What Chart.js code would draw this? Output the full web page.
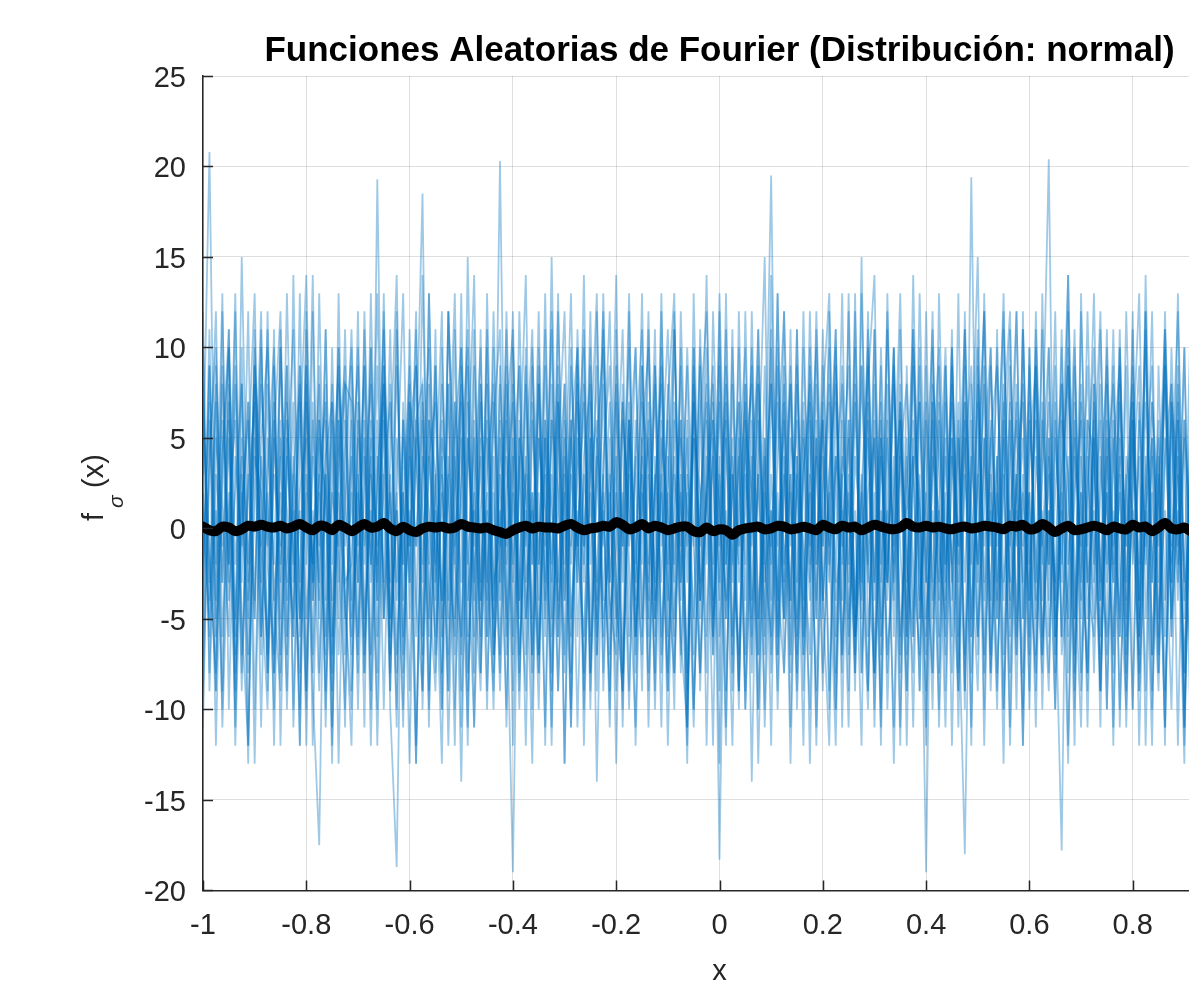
<!DOCTYPE html>
<html>
<head>
<meta charset="utf-8">
<title>Funciones Aleatorias de Fourier</title>
<script src="https://cdn.jsdelivr.net/npm/chart.js@4.4.1/dist/chart.umd.min.js"></script>
<style>
  html, body { margin: 0; padding: 0; background: #fff; overflow: hidden; }
  #wrap { position: absolute; left: 0; top: 0; width: 1440px; height: 981px; }
</style>
</head>
<body>
<div id="wrap"><canvas id="fourierChart" width="1440" height="981"></canvas></div>
<script>
// Sample grid: x from -1 to 1, step 0.0125 (161 samples)
const xStart = -1;
const xStep = 0.0125;

// Axis ticks
const xTicks = [-1, -0.8, -0.6, -0.4, -0.2, 0, 0.2, 0.4, 0.6, 0.8, 1];
const yTicks = [-20, -15, -10, -5, 0, 5, 10, 15, 20, 25];

// Random Fourier functions (estimated)
const s1 = [
  3, 20.8, -5, 8, -3, 12, -8, 2, 7, -11, 5, -2, 10, -7, 3, -12, 8, -4, 6, 1, -9, 13, -5,
  2, -8, 11, -3, 6, -10, 4, 14, -6, 1, -13, 7, -2, 9, -5, 12, 3, -14, 5, -1, 8, -6, 10,
  -4, 6, -9, 3, 14, -7, 2, -11, 8, -3, 5, -8, 11, -1, 7, -14, 4, 9, -6, 2, -10, 6, -2,
  12, -5, 3, -9, 7, 1, -12, 10, -4, 6, -7, 13, -2, 4, -10, 8, -6, 3, 15, -8, 2, -5, 9,
  -3, 7, -13, 5, -1, 10, -6, 3, -9, 12, -4, 8, 14, -7, 1, -11, 6, -3, 9, -5, 2, 11, -8,
  4, -2, 7, -10, 19.4, -6, 1, 9, -4, 5, -12, 3, 8, -7, 10, -1, -9, 6, -3, 14, -5, 2, -8,
  7, -4, 11, -6, 3, -9, 5, -2, 12, -7, 4, -11, 8, -3, 6, -1, 10, -8, 2, -5, 9, -4, 3
];
const s2 = [
  -6, 9, -2, 13, -10, 4, -1, 7, -13, 5, 10, -4, 2, -9, 14, -6, 3, -2, 8, -11, 6, -7, 1,
  11, -3, 5, -9, 19.3, -5, 2, -8, 6, -1, 12, -10, 4, 7, -6, 3, -12, 9, -2, 5, -8, 13, -4,
  1, -10, 8, -5, 3, 11, -7, 5, -2, 9, -13, 6, -3, 10, -8, 2, 12, -5, -1, 7, -9, 4, 11,
  -6, 3, -11, 8, -2, 6, -9, 13, -4, 1, 7, -18.3, 5, -3, 10, -7, 4, -10, 2, 8, -5, 12, -1,
  6, -9, 3, 10, -4, -12, 7, -2, 5, -8, 15, -6, 2, -11, 8, -3, 4, -7, 11, -1, -9, 6, -4,
  9, -12, 5, -3, 8, -7, 13, -1, 4, -10, 6, -5, 11, -2, -8, 3, 10, -6, 1, -13, 7, -4, 12,
  -2, 6, -10, 4, 9, -5, 1, -8, 14, -3, 5, -12, 7, -1, 10, -6, 3, -9, 11, -4, 2, -7, 5
];
const s3 = [
  8, -4, 1, -10, 6, -7, 15, -3, 9, -1, -6, 11, -12, 4, -2, 7, -9, 12, -5, 3, -13, 8, 2,
  -7, 5, -11, 10, -3, 6, -8, 2, 13, -5, 4, 18.5, -9, 1, -4, 8, -10, 3, 11, -6, 7, -2, -9,
  5, -1, 12, -8, 3, -5, 9, -12, 6, 2, -7, 10, -3, 14, -9, 4, -6, 1, 8, -11, 5, -4, 13,
  -8, 2, 9, -6, 11, -3, 5, -10, 1, 7, -4, 12, -9, 3, -1, 8, -14, 6, -2, 10, -7, 4, -5,
  11, -6, 2, -9, 7, 13, -4, 1, -11, 8, -3, 6, -8, 10, -2, 4, -12, 9, -5, 3, -19, 7, -1,
  -5, 10, -3, 6, -8, 2, 12, -7, 4, -13, 9, -1, 5, -6, 11, -4, 3, -10, 8, -2, 6, -9, 1,
  13, -6, 2, -8, 10, -4, 7, -12, 3, 9, -5, 1, -10, 6, -3, 12, -7, 4, -1, 8, -11, 5, -2
];
const s4 = [
  -2, 7, -12, 4, 10, -5, 3, -8, 1, 12, -9, 6, -3, 9, -11, 2, 5, -7, 13, -4, 8, -1, -10,
  6, -3, 9, -7, 2, 11, -9, 5, -2, 8, -13, 4, 1, -6, 10, -4, 7, -11, 3, 14, -8, 2, -5,
  20.3, -6, 4, -10, 8, -2, 12, -5, 3, -9, 6, -1, 10, -12, 5, -3, 8, -7, 2, 11, -6, 4, -9,
  7, -3, 13, -8, 1, 6, -11, 9, -4, 2, -7, 10, -2, 5, -9, 12, -5, 3, -10, 8, -1, 6, -13,
  4, -7, 10, -2, 6, -10, 3, 8, -5, 1, -12, 11, -3, 7, -8, 2, 13, -6, 4, -9, 9, -4, 1,
  -11, 5, -1, 9, -6, 3, 12, -8, 2, -4, 7, -10, 11, -2, 6, -7, 4, -3, -17.8, 10, -5, 8, -1,
  6, -9, 4, -3, 11, -7, 2, 9, -12, 5, -1, 8, -6, 13, -4, 3, -8, 10, -2, 7, -10, 4, 1
];
const s5 = [
  10, -8, 5, 1, -6, 9, -3, 12, -10, 4, -1, 7, -8, 3, 11, -5, 2, -9, -17.5, 6, -2, 10, -7,
  3, 9, -5, 1, -10, 7, -3, 12, -8, 4, -1, 6, -11, 9, -4, 2, 13, -7, 5, -2, -9, 8, -3,
  -1, 11, -7, 4, -12, 6, -2, 9, -5, 13, -8, 3, -1, 7, -10, 5, 10, -3, 2, -8, 12, -6, 4,
  -9, 2, 8, -4, 11, -7, 3, -1, 10, -6, 5, -13, 8, -2, 4, -9, 12, -5, 1, 19.5, -7, 3, -4,
  8, -2, -10, 6, -5, 12, -8, 4, 1, -7, 9, -3, 11, -12, 5, -1, 7, -6, 14, -4, 2, -10, 6,
  -3, 8, -6, 11, -1, -9, 5, -4, 10, -7, 3, 12, -5, 2, -11, 7, -2, 9, -6, 4, -12, 13, -3,
  5, -11, 8, -1, 4, -6, 12, -9, 2, 7, -3, 10, -5, 1, -13, 9, -4, 6, -7, 3, 11, -2, -6
];
const s6 = [
  -9, 3, 12, -6, 2, -10, 8, -4, 5, -1, 11, -8, 4, -3, 7, -12, 9, -2, 3, -7, 10, -5, 6,
  -4, 12, -7, 3, -1, 8, -10, -18.7, 5, -3, 9, -6, 13, -2, 4, -9, 7, 1, -11, 6, -4, 10, -8,
  3, -5, 10, -2, -9, 7, -4, 13, -6, 1, 8, -11, 5, -3, 12, -7, 2, -10, 9, -1, 6, -8, 5,
  10, -4, 6, -12, 3, -1, 9, -7, 11, -2, 4, -9, 13, -6, 1, 7, -8, 3, -5, 11, -10, 2, 8,
  -5, 12, -3, 4, -8, 1, 10, -11, 6, -4, 3, -9, 8, -2, 12, -6, 5, -1, -8, 10, -3, 7, -11,
  2, -6, 13, -9, 4, -2, 8, -5, 11, -10, 1, 6, -3, 9, -7, 4, 20.4, -8, 2, -5, 10, -3, 6,
  -8, 4, -2, 11, -6, 3, -10, 7, -1, 12, -8, 5, -3, 9, -11, 2, 6, -4, 13, -7, 1, -5, 8
];
const s7 = [
  5, -3, 8, -11, 1, 6, -9, 4, 13, -6, 2, -8, 10, -1, -5, 9, -12, 6, -3, 11, -7, 2, -4,
  -12, 7, -2, 10, -6, 3, -9, 11, -4, 5, -1, 8, -10, 2, 12, -7, 4, -3, 9, -11, 1, 6, -6,
  8, -3, -19, 5, -7, 10, -2, 6, -9, 4, 12, -5, 1, -8, 9, -4, 3, -11, 7, -1, 13, -6, 2,
  -5, 9, -8, 2, 12, -4, 6, -10, 1, 8, -6, 3, -12, 10, -2, 5, -7, 11, -3, 1, -9, 7, -4,
  11, -7, 3, -5, 9, -1, -12, 6, -3, 10, -8, 2, 5, -10, 13, -4, 7, -2, -6, 9, -11, 4, 1,
  -7, 10, -4, -18, 6, -2, 9, -8, 3, 12, -5, 1, -10, 7, -3, 11, -6, 2, 8, -12, 4, -1, 9,
  -3, 8, -10, 5, -6, 12, -2, 4, -9, 7, 1, -11, 6, -4, 10, -8, 3, -1, 9, -5, 12, -7, 2
];
const s8 = [
  2, -6, 9, -3, 5, -8, 1, 7, -4, 10, -2, -7, 6, -10, 3, 8, -5, 1, -9, 4, 7, -3, 11,
  -5, 3, -8, 6, -2, 9, -6, 1, -10, 7, 4, -3, 8, -7, 2, -9, 5, 10, -4, 1, -6, 3, 8,
  -7, 4, -2, 9, -5, 2, -10, 6, 1, -4, 8, -6, 3, 11, -8, 5, -1, 7, -3, -9, 4, 10, -6,
  3, -8, 5, 1, -6, 10, -3, 7, -9, 2, 6, -4, 9, -1, -7, 4, 8, -10, 5, -2, 7, -5, 3,
  -9, 6, -1, 8, -4, 3, 11, -7, 2, -5, 9, -2, -8, 6, -3, 10, -6, 1, 4, -9, 7, -3, 9,
  -2, 5, -9, 7, 1, -6, 4, 10, -5, 3, -8, 2, 7, -4, 9, -7, 1, -3, 11, -6, 5, -1, -8,
  8, -4, 2, -7, 10, -3, 6, -9, 1, 5, -6, 12, -2, 4, -8, 7, -1, -5, 9, -3, 6, -10, 2
];
const s9 = [
  -4, 11, -9, 6, -2, 8, -5, -12, 9, 3, -7, 5, 12, -4, 1, -10, 7, -3, 9, -6, 2, -1, 8,
  7, -10, 4, -2, 13, -5, 8, -3, 2, -9, 6, 1, -6, 11, -8, 4, -2, 7, -12, 9, -3, 5, -7,
  -2, 9, -6, 12, -3, 1, -8, 5, -11, 7, -4, 9, -1, -6, 4, 13, -9, 2, -5, 8, -2, -11, 7,
  4, -6, 10, -3, -8, 5, 1, -11, 6, 12, -2, 7, -5, 3, -9, 6, 2, -7, 9, -4, 13, -8, 2,
  -6, 3, 8, -12, 4, -3, 9, -1, 6, -8, 2, 10, -4, 5, -7, -2, 11, -9, 3, 7, -5, 1, -10,
  9, -3, 5, -7, 2, 11, -10, 6, -1, 8, -4, 3, -12, 10, -5, 1, -8, 5, -2, 12, -9, 7, -3,
  1, -9, 6, -2, 8, -11, 4, 13, -5, 2, -7, 9, -3, 6, -10, 4, 1, 11, -6, 3, -8, 5, 10
];
const s10 = [
  7, -2, -8, 4, 11, -9, 2, -5, 10, -3, 8, -12, 5, 1, -6, 9, -2, 14, -8, 3, -4, 6, -11,
  9, -1, 6, -12, 3, 8, -5, 2, -7, 11, -4, -9, 6, 3, -10, 12, -1, 5, -8, 2, 10, -6, 4,
  -9, 2, 7, -4, 10, -8, 5, -1, 12, -6, 3, -10, 8, -2, 5, -9, 11, -4, -7, 6, 1, -3, 9,
  -2, 11, -7, 4, -3, 9, -10, 5, 2, -8, 12, -1, 6, -9, 3, 10, -4, 8, -11, 1, -6, 9, -7,
  3, -5, 12, -2, 7, -9, 4, 1, -6, 13, -8, 5, -3, 9, -10, 2, 6, -5, 10, -2, -7, 8, 4,
  -6, 9, -2, 5, -11, 7, -1, 3, -9, 6, 12, -7, 2, -4, 8, -10, 5, -6, 3, 9, -2, -11, 6,
  4, -7, 10, -3, 2, -8, 11, -5, 7, -1, -9, 4, 8, -12, 6, -2, 9, -4, 1, -10, 7, 3, -6
];
const s11 = [
  -7, 4, 10, -3, 8, -12, 1, 6, -5, 11, -8, 3, -1, 9, -10, 5, 14, -4, 2, -9, 7, -13, 4,
  10, -6, 2, 8, -4, 13, -7, 1, -11, 5, 9, -2, 6, -8, 3, -5, 11, -9, 15, -3, 4, -10, 7,
  -1, 8, -12, 5, 2, -7, 10, -4, 6, -9, 1, 13, -6, 3, -2, 9, -8, 5, -13, 7, -1, 10, -5,
  6, -10, 3, 11, -5, 2, -8, 7, -1, 14, -6, 4, -11, 8, -3, 1, 9, -7, 5, -12, 10, -2, 3,
  -8, 5, -4, 12, -1, 7, -10, 3, 9, -6, 2, -9, 11, -3, 6, -13, 4, 8, -2, -7, 12, -5, 1,
  10, -4, 6, -9, 3, 15, -8, 2, -5, 11, -1, 7, -12, 4, 9, -6, 1, -10, 6, 3, -8, 12, -3,
  -6, 2, 9, -11, 5, -1, 7, -4, 12, -9, 3, -6, 10, -2, 5, -12, 8, 1, -7, 11, -4, 6, -9
];
const s12 = [
  12, -9, 3, -1, 7, -6, 10, -12, 4, 2, -8, 9, -5, 13, -3, 1, -10, 7, -4, 11, -6, 3, 8,
  -9, 2, -6, 13, -4, 9, 1, -10, 6, -3, 11, -7, 4, -1, -13, 8, -5, 2, 10, -8, 5, -4, 12,
  -3, 6, 11, -9, 4, -2, 8, -6, 15, -5, 2, -11, 7, -1, 10, -7, 3, 12, -4, -9, 6, -2, 9,
  -11, 4, -3, 7, 13, -8, 2, -5, 9, -12, 6, 1, -4, 11, -9, 3, -1, 8, -6, 14, -3, -8, 5,
  2, -12, 9, -4, 6, -1, 11, -7, 3, -9, 13, -2, 5, -6, 1, 10, -8, 4, -11, 7, -3, 12, -6,
  7, -2, -9, 12, -5, 3, -7, 10, -3, 6, -11, 8, -1, 2, -9, 13, -4, 7, -6, 1, 11, -8, 4,
  -5, 11, -3, 6, -10, 2, 8, -6, 1, -12, 9, -4, 7, 3, -8, 5, -11, 10, -2, 6, -9, 2, 12
];
const s13 = [
  1, -5, 7, -9, 11, -2, 4, -13, 8, -6, 3, 10, -7, 5, -1, -8, 12, -3, 6, -10, 2, 9, -4,
  -10, 6, -1, 4, -8, 12, -5, 9, -2, 7, -12, 3, 10, -4, 8, -1, -6, 13, -9, 2, -5, 11, -7,
  9, -2, 5, -7, 1, -13, 8, -3, 11, -6, 4, -2, 9, -10, 3, 6, -5, -1, 14, -8, 3, -6, 1,
  5, -9, 12, -2, 4, -6, -11, 8, -3, 10, -5, 1, 7, -8, 12, -4, 6, -13, 2, -1, 9, -5, 11,
  -7, 10, -2, 5, -9, 3, 8, -4, 12, -6, -1, 7, -10, 4, -3, 9, -7, 2, 11, -5, 6, -8, 13,
  -2, 7, -11, 4, 9, -3, 5, -9, 1, 13, -6, 3, -8, 10, -4, 6, -2, 12, -7, -3, 9, -5, 2,
  10, -3, 5, -12, 7, -1, 9, -6, 4, -10, 2, 11, -5, 8, -2, -7, 13, -4, 3, -9, 6, -1, -11
];
const s14 = [
  -11, 6, -4, 9, -2, 13, -7, 3, -5, 8, 1, -10, 11, -6, 4, -3, 9, -12, 5, 2, -8, 10, -1,
  4, -7, 12, -2, 9, -5, 3, -11, 7, -1, 5, -9, 13, -3, 6, -12, 2, 8, -6, 11, -4, 1, -10,
  6, -11, 3, 9, -5, 2, -8, 11, -3, 7, -13, 5, -1, 8, -6, 12, -4, 3, -9, 1, 10, -7, 5,
  -3, 8, -6, 2, -10, 12, -1, 5, -8, 3, 9, -6, 1, -12, 7, -2, 10, -5, 4, -7, 13, -3, 8,
  -10, 3, 7, -5, 11, -2, 4, -8, 13, -6, 1, 9, -11, 5, -4, 8, -1, -9, 6, 2, -12, 10, -3,
  5, -8, 2, 11, -6, 9, -4, 1, -10, 7, -3, 12, -5, 6, -1, -8, 10, -4, 3, 14, -7, 2, -9,
  8, -2, -6, 9, -11, 4, 1, -7, 10, -3, 6, -9, 2, 12, -5, 3, -10, 7, -4, 1, 9, -12, 5
];
const s15 = [
  6, -1, -9, 12, -4, 2, 8, -7, 11, -3, -10, 5, -2, 7, -6, 13, -9, 4, -1, 8, -11, 6, -3,
  -2, 10, -8, 5, -12, 3, 7, -4, 1, 9, -6, 14, -3, -9, 5, 2, -7, 10, -1, -11, 8, -3, 6,
  11, -7, 2, -4, 9, -10, 5, 1, -8, 12, -2, 6, -11, 4, 8, -5, 1, -9, 11, -3, 7, -12, 3,
  -4, 9, -1, 6, -8, 3, -13, 10, -5, 2, 8, -3, 11, -7, 5, -10, 3, 9, -2, -6, 4, 12, -8,
  9, -4, 6, -11, 2, 8, -3, 13, -7, 4, -1, -10, 6, -5, 11, -2, 8, -12, 5, 1, -6, 3, 10,
  -9, 4, -1, 7, -12, 10, -3, 5, -8, 2, 11, -6, 3, -9, 12, -2, 5, -7, 1, 9, -10, 4, -5,
  3, 12, -7, 1, -5, 9, -10, 6, -2, 4, -8, 11, -1, 7, -12, 5, -3, 8, -9, 2, -6, 10, -4
];
const s16 = [
  -3, 9, -6, 2, 10, -11, 5, -2, 8, -7, 12, -4, -9, 6, 1, -5, 11, -8, 3, 7, -12, 4, 9,
  -6, 1, 9, -10, 4, -3, 11, -7, 2, -13, 6, 8, -5, 3, -10, 12, -2, -6, 7, -4, 11, -9, 2,
  -8, 12, -3, 6, -1, 9, -7, 3, -12, 8, -4, 5, 10, -9, 2, -6, 13, -3, 4, -10, 6, -1, -7,
  11, -5, 2, -9, 6, -3, 10, -1, -8, 4, -12, 9, -5, 2, 7, -10, 1, 11, -7, 3, -4, 8, -11,
  4, -1, -7, 11, -4, 2, -10, 9, -2, 7, -5, 12, -8, 1, -3, 10, -11, 5, -6, 13, -2, -8, 7,
  -4, 11, -8, 3, -2, 8, -12, 5, 9, -3, 1, -7, 12, -10, 4, -1, 7, -5, 10, -8, 2, 6, -11,
  5, -9, 3, 8, -2, -10, 6, -4, 11, -7, 2, 9, -6, 3, -11, 8, -1, 5, -9, 12, -3, 7, -8
];

// Mean of the functions (thick black line)
const meanLine = [
  0.1, -0.1, -0.15, 0.1, 0.05, -0.15, -0.05, 0.15, 0.1, 0.2, 0.1, 0.05, 0.15, 0.0, 0.1, 0.25, 0.05, -0.1, 0.15, 0.1, -0.1, 0.2, 0.05,
  -0.15, 0.05, 0.25, 0.05, 0.1, 0.3, 0.0, -0.15, 0.1, -0.1, -0.2, 0.0, 0.1, 0.05, 0.1, 0.0, 0.05, 0.25, 0.1, 0.05, 0.0, 0.05, -0.1,
  -0.2, -0.3, -0.1, 0.05, 0.15, 0.0, 0.1, 0.05, 0.05, 0.0, 0.15, 0.25, 0.05, -0.1, 0.0, 0.05, 0.15, 0.1, 0.35, 0.2, -0.05, 0.05, 0.25,
  0.0, 0.15, 0.05, -0.1, 0.0, 0.1, 0.1, -0.15, -0.2, 0.05, -0.15, -0.05, -0.1, -0.35, -0.1, 0.0, 0.05, 0.1, -0.05, 0.0, 0.15, 0.1, -0.05,
  0.0, 0.1, 0.0, -0.1, 0.2, 0.05, -0.05, 0.15, 0.05, 0.1, -0.1, 0.05, 0.2, 0.1, 0.0, -0.05, 0.05, 0.3, 0.1, 0.05, 0.15, 0.05, 0.1,
  0.0, -0.05, 0.05, 0.1, 0.0, 0.05, 0.15, 0.1, 0.05, -0.05, 0.15, 0.1, 0.2, -0.05, 0.0, 0.25, 0.05, -0.2, 0.0, 0.15, -0.1, -0.05, 0.05,
  0.15, 0.05, -0.1, 0.1, 0.0, -0.05, 0.2, 0.05, 0.1, -0.15, 0.05, 0.3, 0.0, -0.05, 0.05, -0.15, -0.25, 0.05, 0.1, 0.0, -0.05, 0.1, 0.0
];

const curves = [s1, s2, s3, s4, s5, s6, s7, s8, s9, s10, s11, s12, s13, s14, s15, s16];

const FONT = '"Liberation Sans", Arial, Helvetica, sans-serif';
const INK = '#262626';

function toPoints(values) {
  return values.map((v, i) => ({ x: xStart + i * xStep, y: v }));
}

// MATLAB-like inward tick marks + y label with subscript
const matlabAxes = {
  id: 'matlabAxes',
  afterDraw(chart) {
    const { ctx, chartArea: a, scales: { x, y } } = chart;
    ctx.save();
    ctx.strokeStyle = INK;
    ctx.lineWidth = 1.5;
    ctx.beginPath();
    xTicks.forEach(t => {
      const px = Math.round(x.getPixelForValue(t)) + 0.5;
      ctx.moveTo(px, a.bottom);
      ctx.lineTo(px, a.bottom - 10);
    });
    yTicks.forEach(t => {
      const py = Math.round(y.getPixelForValue(t)) + 0.5;
      ctx.moveTo(a.left, py);
      ctx.lineTo(a.left + 10, py);
    });
    ctx.stroke();

    // y label: f_sigma(x)
    ctx.translate(103, 521);
    ctx.rotate(-Math.PI / 2);
    ctx.fillStyle = INK;
    ctx.textBaseline = 'alphabetic';
    ctx.textAlign = 'left';
    ctx.font = '29px ' + FONT;
    ctx.fillText('f', 0, 0);
    ctx.font = 'italic 21px ' + FONT;
    ctx.fillText('σ', 13, 20);
    ctx.font = '29px ' + FONT;
    ctx.fillText('(x)', 33, 0);
    ctx.restore();
  }
};

const datasets = [{
  label: 'media',
  data: toPoints(meanLine),
  borderColor: '#000000',
  borderWidth: 10,
  borderCapStyle: 'round',
  borderJoinStyle: 'round',
  tension: 0.3,
  pointRadius: 0,
  order: 0
}].concat(curves.map((c, k) => ({
  label: 'f' + (k + 1),
  data: toPoints(c),
  borderColor: 'rgba(0, 114, 189, 0.38)',
  borderWidth: 1.8,
  tension: 0,
  pointRadius: 0,
  order: 1
})));

const chart = new Chart(document.getElementById('fourierChart').getContext('2d'), {
  type: 'line',
  data: { datasets: datasets },
  plugins: [matlabAxes],
  options: {
    responsive: false,
    animation: false,
    parsing: false,
    layout: { padding: { left: 0, right: 204, top: 0, bottom: -8 } },
    plugins: {
      legend: { display: false },
      tooltip: { enabled: false },
      title: {
        display: true,
        fullSize: false,
        text: 'Funciones Aleatorias de Fourier (Distribución: normal)',
        color: '#000000',
        font: { family: FONT, size: 35, weight: 'bold' },
        padding: { top: 30, bottom: 4 }
      }
    },
    scales: {
      x: {
        type: 'linear',
        min: -1,
        max: 1,
        afterBuildTicks: s => { s.ticks = xTicks.map(v => ({ value: v })); },
        ticks: {
          color: INK,
          font: { family: FONT, size: 29 },
          padding: 18,
          maxRotation: 0,
          autoSkip: false,
          callback: v => String(Math.round(v * 10) / 10)
        },
        grid: { color: 'rgba(0,0,0,0.13)', lineWidth: 1, drawTicks: false },
        border: { display: true, color: INK, width: 1.5 },
        title: {
          display: true,
          text: 'x',
          color: INK,
          font: { family: FONT, size: 29 },
          padding: { top: -7, bottom: 0 }
        }
      },
      y: {
        type: 'linear',
        min: -20,
        max: 25,
        afterBuildTicks: s => { s.ticks = yTicks.map(v => ({ value: v })); },
        afterFit: s => { s.width = 203; },
        ticks: {
          color: INK,
          font: { family: FONT, size: 29 },
          padding: 17,
          labelOffset: 3,
          autoSkip: false,
          callback: v => String(v)
        },
        grid: { color: 'rgba(0,0,0,0.13)', lineWidth: 1, drawTicks: false },
        border: { display: true, color: INK, width: 1.5 }
      }
    }
  }
});
</script>
</body>
</html>
